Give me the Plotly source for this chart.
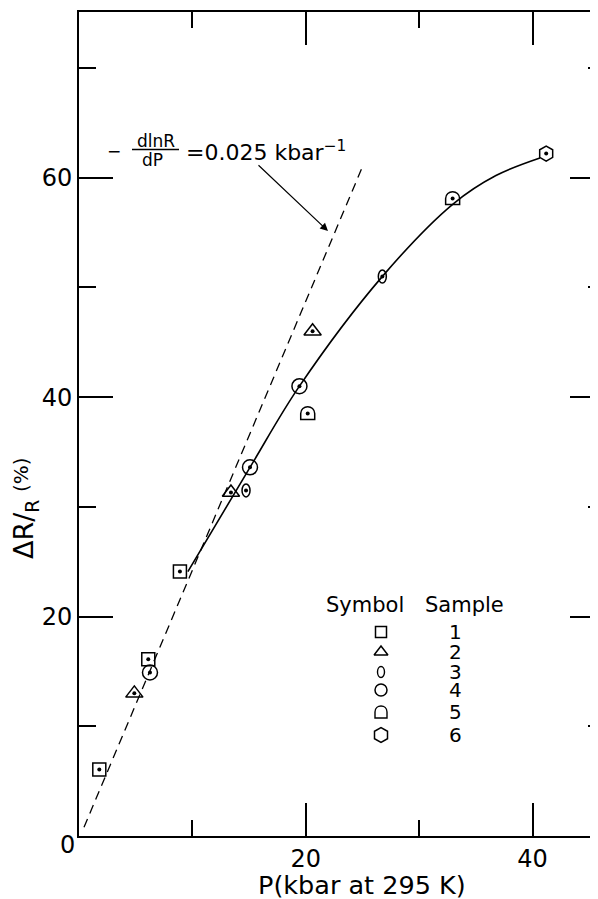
import plotly.graph_objects as go

# ---------------- data ----------------
s1_p = [1.79, 6.11, 8.9]
s1_r = [6.07, 16.1, 24.1]
s2_p = [4.88, 13.4, 20.6]
s2_r = [13.0, 31.3, 46.0]
s3_p = [14.73, 26.75]
s3_r = [31.5, 51.0]
s4_p = [6.26, 15.08, 19.44]
s4_r = [14.9, 33.6, 41.0]
s5_p = [20.17, 32.95]
s5_r = [38.5, 58.1]
s6_p = [41.2]
s6_r = [62.2]

fit_p = [9.6, 15.08, 19.44, 26.72, 32.98, 36.77, 40.65]
fit_r = [24.1, 33.6, 41.0, 50.96, 57.6, 60.2, 61.8]

slope_p = [0.44, 25.0]
slope_r = [0.8, 61.0]

x_major = [20, 40]
x_minor = [10, 30]
y_major = [20, 40, 60]
y_minor = [10, 30, 50, 70]
legend_samples = ["1", "2", "3", "4", "5", "6"]

x_title = "P(kbar at 295 K)"
y_title_main = "ΔR/<sub>R</sub>"
y_title_unit = "(%)"
slope_text = "=0.025 kbar<sup>−1</sup>"

# ---------------- layout geometry ----------------
# the page body has an 8px margin, so the figure is drawn 8px smaller and
# all reference pixel positions are shifted by that offset
OFF = 8
W, H = 598 - OFF, 899 - OFF
PL, PT, PB = 79 - OFF, 12 - OFF, 836 - OFF
PW = W - PL
PH = PB - PT
X_RANGE = [0, 45.77]
Y_RANGE = [0, 75.1]
FONT = "DejaVu Sans"


def fx(px):
    return (px - OFF - PL) / PW


def fy(py):
    return (PB - (py - OFF)) / PH


BLACK = "black"
mk_line = dict(color=BLACK, width=1.5)

fig = go.Figure()

# dashed initial slope line
fig.add_trace(go.Scatter(x=slope_p, y=slope_r, mode="lines",
                         line=dict(color=BLACK, width=1.3, dash="9px,6px"),
                         hoverinfo="skip", showlegend=False))
# solid smooth curve
fig.add_trace(go.Scatter(x=fit_p, y=fit_r, mode="lines",
                         line=dict(color=BLACK, width=1.6, shape="spline", smoothing=1.0),
                         hoverinfo="skip", showlegend=False))

# open markers
for px_, py_, sym, sz in [(s1_p, s1_r, "square-open", 13),
                          (s2_p, s2_r, "triangle-up-open", 15),
                          (s4_p, s4_r, "circle-open", 15),
                          (s6_p, s6_r, "hexagon-open", 15)]:
    fig.add_trace(go.Scatter(x=px_, y=py_, mode="markers",
                             marker=dict(symbol=sym, size=sz, color=BLACK, line=mk_line),
                             showlegend=False))

# centre dots for every point
all_p = s1_p + s2_p + s3_p + s4_p + s5_p + s6_p
all_r = s1_r + s2_r + s3_r + s4_r + s5_r + s6_r
fig.add_trace(go.Scatter(x=all_p, y=all_r, mode="markers",
                         marker=dict(symbol="circle", size=4, color=BLACK),
                         showlegend=False))

# sample 3 (narrow ellipse) and sample 5 (arch) marks as pixel-sized shapes anchored on data
ARCH = "M-7,-6 L-7,0 C-7,9 7,9 7,0 L7,-6 Z"
ARCH_S = "M-6,-6 L-6,0 C-6,8 6,8 6,0 L6,-6 Z"
shapes = []
for p, r in zip(s3_p, s3_r):
    shapes.append(dict(type="circle", xref="x", yref="y", xsizemode="pixel", ysizemode="pixel",
                       xanchor=p, yanchor=r, x0=-4, x1=4, y0=-6.5, y1=6.5,
                       line=dict(color=BLACK, width=1.5)))
for p, r in zip(s5_p, s5_r):
    shapes.append(dict(type="path", xref="x", yref="y", xsizemode="pixel", ysizemode="pixel",
                       xanchor=p, yanchor=r, path=ARCH,
                       line=dict(color=BLACK, width=1.5)))

# ---------------- legend (symbol table) ----------------
LEG_SX = 381
LEG_NX = 455
leg_rows = [632, 652, 672, 690, 712, 735]
leg_layer = dict(xaxis="x3", yaxis="y3", mode="markers", showlegend=False, hoverinfo="skip")
for idx, sym, sz in [(0, "square-open", 11), (1, "triangle-up-open", 12),
                     (3, "circle-open", 12), (5, "hexagon-open", 15)]:
    fig.add_trace(go.Scatter(x=[fx(LEG_SX)], y=[fy(leg_rows[idx])],
                             marker=dict(symbol=sym, size=sz, color=BLACK, line=mk_line),
                             **leg_layer))
shapes.append(dict(type="circle", xref="paper", yref="paper", xsizemode="pixel", ysizemode="pixel",
                   xanchor=fx(LEG_SX), yanchor=fy(leg_rows[2]), x0=-3.5, x1=3.5, y0=-5.5, y1=5.5,
                   line=dict(color=BLACK, width=1.4)))
shapes.append(dict(type="path", xref="paper", yref="paper", xsizemode="pixel", ysizemode="pixel",
                   xanchor=fx(LEG_SX), yanchor=fy(leg_rows[4]), path=ARCH_S,
                   line=dict(color=BLACK, width=1.4)))

# dummy trace to carry the right-hand tick axis
fig.add_trace(go.Scatter(x=[None], y=[None], yaxis="y2", showlegend=False, hoverinfo="skip"))

# fraction bar of the slope formula
shapes.append(dict(type="line", xref="paper", yref="paper",
                   x0=fx(132), x1=fx(179), y0=fy(149.5), y1=fy(149.5),
                   line=dict(color=BLACK, width=1.5)))

annotations = []


def txt(text, px, py, size, xanchor="center", **kw):
    annotations.append(dict(text=text, x=fx(px), y=fy(py), xref="paper", yref="paper",
                            showarrow=False, xanchor=xanchor, yanchor="middle",
                            font=dict(family=FONT, size=size, color=BLACK), **kw))


# formula
txt("−", 114, 151, 17)
txt("dlnR", 156, 141, 17)
txt("dP", 152, 160, 17)
txt(slope_text, 184, 151, 22, xanchor="left")
# arrow
annotations.append(dict(x=fx(328), y=fy(231), xref="paper", yref="paper", text=" ",
                        showarrow=True, ax=-73, ay=-69, arrowhead=2, arrowsize=1.3,
                        arrowwidth=1.2, arrowcolor=BLACK, standoff=0))
# legend texts
txt("Symbol", 365, 605, 21)
txt("Sample", 464, 605, 21)
for lab, row in zip(legend_samples, leg_rows):
    txt(lab, LEG_NX, row, 20)
# axis titles and origin label
txt(y_title_main, 25, 530, 27, textangle=-90)
txt(y_title_unit, 21, 475, 20, textangle=-90)
txt(x_title, 362, 885, 25.5)
txt("0", 67, 845, 24)

axis_common = dict(showgrid=False, zeroline=False, showline=True, linecolor=BLACK,
                   linewidth=2, ticks="inside", tickcolor=BLACK, tickwidth=1.5,
                   tickfont=dict(family=FONT, size=24, color=BLACK))

fig.update_layout(
    width=W, height=H,
    margin=dict(l=PL, r=0, t=PT, b=H - PB, pad=0),
    paper_bgcolor="white", plot_bgcolor="white",
    showlegend=False,
    font=dict(family=FONT, color=BLACK),
    xaxis=dict(range=X_RANGE, tickmode="array", tickvals=x_major, ticklen=33, mirror="ticks",
               minor=dict(tickmode="array", tickvals=x_minor, ticklen=16, ticks="inside",
                          tickcolor=BLACK, tickwidth=1.5),
               **axis_common),
    yaxis=dict(range=Y_RANGE, tickmode="array", tickvals=y_major, ticklen=34,
               minor=dict(tickmode="array", tickvals=y_minor, ticklen=17, ticks="inside",
                          tickcolor=BLACK, tickwidth=1.5),
               **axis_common),
    yaxis2=dict(range=Y_RANGE, overlaying="y", side="right", anchor="x",
                showgrid=False, zeroline=False, showline=False, showticklabels=False,
                ticks="inside", tickcolor=BLACK, tickwidth=1.5, ticklen=28,
                tickmode="array", tickvals=y_major,
                minor=dict(tickmode="array", tickvals=y_minor, ticklen=10, ticks="inside",
                           tickcolor=BLACK, tickwidth=1.5)),
    xaxis3=dict(range=[0, 1], overlaying="x", visible=False),
    yaxis3=dict(range=[0, 1], overlaying="y", visible=False),
    shapes=shapes,
    annotations=annotations,
)

fig.write_html("out.html")
